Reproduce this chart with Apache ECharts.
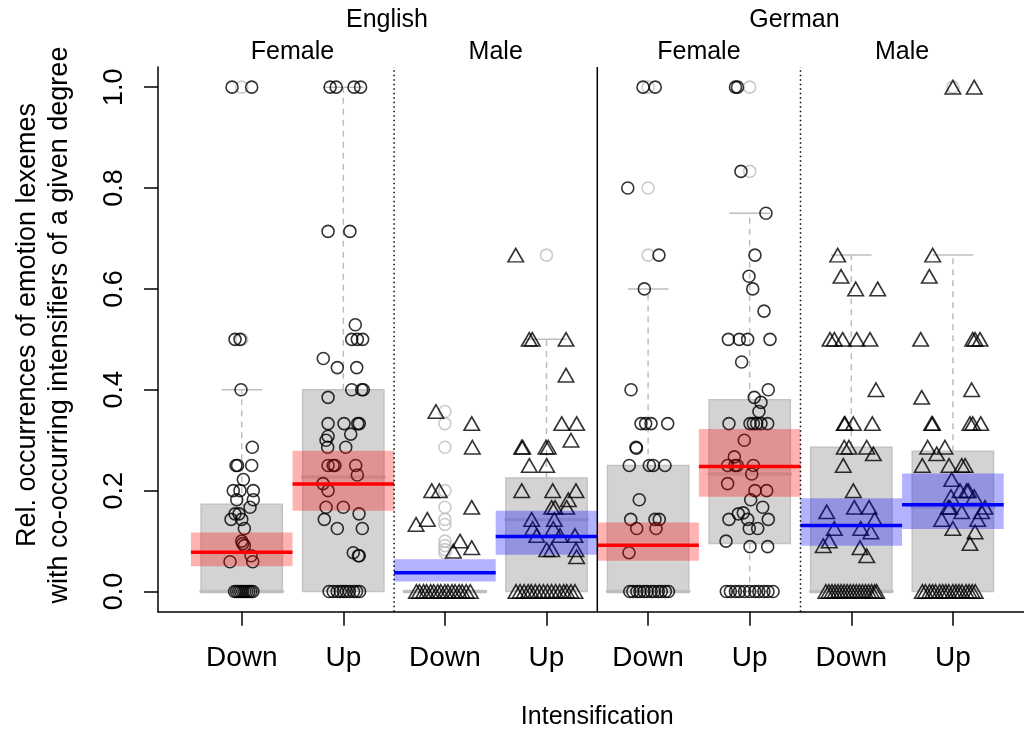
<!DOCTYPE html>
<html><head><meta charset="utf-8">
<script src="https://cdn.jsdelivr.net/npm/echarts@6/dist/echarts.min.js"></script>
<style>html,body{margin:0;padding:0;background:#fff}#c{width:1024px;height:731px}</style>
</head><body><div id="c"></div>
<script>
// ---------- data ----------
const tickLabels = ['Down','Up','Down','Up','Down','Up','Down','Up'];
const groupPositions = [1,2,3,4,5,6,7,8];
const groupGender = ['Female','Female','Male','Male','Female','Female','Male','Male'];
const languageLabels = ['English','German'];
const languageCenters = [2.43, 6.44];
const genderLabels = ['Female','Male','Female','Male'];
const genderCenters = [1.5, 3.5, 5.5, 7.5];
const yTicks = [0, 0.2, 0.4, 0.6, 0.8, 1.0];
const xTitle = 'Intensification';
const yTitle1 = 'Rel. occurrences of emotion lexemes';
const yTitle2 = 'with co-occurring intensifiers of a given degree';

// box statistics: [q1, median, q3, whiskerLow, whiskerHigh]
const boxStats = [
  [0, 0, 0.173, 0, 0.4],
  [0, 0.227, 0.4, 0, 1.0],
  [0, 0, 0, 0, 0],
  [0, 0.143, 0.225, 0, 0.5],
  [0, 0, 0.25, 0, 0.6],
  [0.095, 0.233, 0.38, 0, 0.75],
  [0, 0, 0.286, 0, 0.667],
  [0, 0.167, 0.278, 0, 0.667]
];
const meanVals = [0.078, 0.213, 0.037, 0.109, 0.092, 0.248, 0.131, 0.172];
const bandLow  = [0.050, 0.160, 0.020, 0.073, 0.061, 0.188, 0.091, 0.124];
const bandHigh = [0.117, 0.279, 0.064, 0.160, 0.137, 0.322, 0.185, 0.234];

// boxplot outliers (drawn grey at group centre)
const outliers = [
  [1.0, 0.5],
  [],
  [0.357, 0.333, 0.286, 0.2, 0.167, 0.143, 0.133, 0.1, 0.091, 0.083, 0.077],
  [0.667],
  [1.0, 0.8, 0.667],
  [1.0, 0.833],
  [],
  [1.0]
];

// observations: [jitter, value]
const obs1 = [[-0.095,1],[0.098,1],[-0.066,0.5],[-0.017,0.5],[-0.007,0.4],[0.104,0.286],[-0.056,0.25],[-0.041,0.25],[0.098,0.25],[0.016,0.222],[-0.083,0.2],[-0.017,0.2],[0.114,0.2],[-0.049,0.182],[0.114,0.182],[0.082,0.167],[-0.066,0.154],[-0.027,0.154],[-0.105,0.143],[0,0.143],[0.026,0.125],[0,0.1],[0.01,0.095],[0.026,0.091],[0.092,0.071],[-0.115,0.059],[0.108,0.059]];
const obs2 = [[-0.13,1],[-0.07,1],[0.105,1],[0.17,1],[-0.15,0.714],[0.065,0.714],[0.118,0.529],[0.083,0.5],[0.138,0.5],[0.19,0.5],[-0.197,0.462],[-0.059,0.444],[0.132,0.444],[0.083,0.4],[0.181,0.4],[0.197,0.4],[-0.15,0.385],[-0.15,0.333],[0.007,0.333],[0.142,0.333],[0.157,0.333],[0.073,0.312],[-0.15,0.308],[-0.17,0.3],[0.024,0.286],[-0.154,0.286],[-0.15,0.25],[-0.1,0.25],[-0.083,0.25],[0.122,0.25],[0.138,0.231],[-0.2,0.214],[-0.15,0.2],[-0.17,0.167],[0,0.167],[0.155,0.154],[-0.187,0.143],[-0.059,0.125],[0.187,0.125],[0.098,0.077],[0.148,0.071],[0.157,0.071]];
const obs3 = [[-0.088,0.357],[0.264,0.333],[0.27,0.286],[-0.13,0.2],[-0.055,0.2],[0.264,0.167],[-0.173,0.143],[-0.284,0.133],[0.149,0.1],[0.264,0.087],[0.083,0.08]];
const obs4 = [[-0.303,0.667],[-0.17,0.5],[-0.14,0.5],[0.192,0.5],[0.192,0.429],[0.15,0.333],[0.297,0.333],[0.241,0.3],[-0.244,0.286],[-0.234,0.286],[-0.005,0.286],[0.018,0.286],[-0.169,0.25],[0.002,0.25],[-0.244,0.2],[0.061,0.2],[0.29,0.2],[0.215,0.182],[0.051,0.167],[0.084,0.167],[0.199,0.167],[-0.146,0.143],[0.077,0.143],[-0.136,0.125],[0.067,0.125],[-0.096,0.111],[0.133,0.111],[0.28,0.111],[0.002,0.083],[0.051,0.083],[0.29,0.083],[0.297,0.069]];
const obs5 = [[-0.05,1],[0.07,1],[-0.2,0.8],[0.107,0.667],[-0.037,0.6],[-0.168,0.4],[-0.07,0.333],[-0.024,0.333],[0.029,0.333],[0.193,0.333],[-0.119,0.286],[-0.115,0.284],[-0.185,0.25],[0.012,0.25],[0.051,0.25],[0.166,0.25],[-0.087,0.182],[-0.171,0.143],[0.068,0.143],[0.11,0.143],[-0.112,0.125],[0.078,0.125],[-0.188,0.077]];
const obs6 = [[-0.14,1],[-0.12,1],[-0.086,0.833],[0.16,0.75],[0.052,0.667],[-0.007,0.625],[0.03,0.6],[0.141,0.556],[-0.21,0.5],[-0.102,0.5],[-0.02,0.5],[0.2,0.5],[-0.079,0.455],[0.183,0.4],[0.045,0.385],[0.111,0.375],[0.091,0.357],[-0.204,0.333],[0.003,0.333],[0.036,0.333],[0.069,0.333],[0.111,0.333],[0.177,0.333],[-0.053,0.3],[-0.151,0.267],[-0.217,0.25],[-0.145,0.25],[-0.122,0.25],[0.036,0.25],[0.02,0.233],[-0.217,0.214],[0.052,0.2],[0.167,0.2],[0.01,0.182],[0.128,0.167],[-0.063,0.156],[-0.112,0.154],[-0.204,0.143],[-0.02,0.143],[0.183,0.143],[-0.004,0.125],[0.079,0.125],[-0.233,0.1],[0.003,0.089],[0.177,0.089]];
const obs7 = [[-0.134,0.667],[-0.101,0.625],[0.043,0.6],[0.26,0.6],[-0.21,0.5],[-0.167,0.5],[-0.085,0.5],[0.053,0.5],[0.184,0.5],[0.243,0.4],[-0.069,0.333],[-0.062,0.333],[0.02,0.333],[0.207,0.333],[-0.069,0.286],[-0.023,0.286],[0.152,0.286],[0.217,0.273],[-0.079,0.25],[0.02,0.2],[0.03,0.167],[0.175,0.167],[-0.242,0.158],[0.23,0.143],[-0.167,0.125],[0.093,0.125],[0.193,0.118],[-0.217,0.1],[-0.276,0.091],[0.086,0.087],[0.152,0.071]];
const obs8 = [[0,1],[0.21,1],[-0.199,0.667],[-0.232,0.625],[-0.317,0.5],[0.195,0.5],[0.218,0.5],[0.267,0.5],[0.185,0.4],[-0.307,0.385],[-0.209,0.333],[-0.2,0.333],[0.168,0.333],[0.195,0.333],[0.274,0.333],[-0.248,0.286],[-0.078,0.286],[-0.159,0.273],[-0.301,0.25],[-0.038,0.25],[0.087,0.25],[0.12,0.25],[-0.012,0.222],[0.07,0.2],[0.136,0.2],[0.152,0.2],[-0.019,0.188],[0.21,0.188],[-0.029,0.167],[0.316,0.167],[-0.045,0.167],[0.087,0.158],[0.282,0.158],[-0.11,0.143],[0.244,0.143],[0,0.125],[0.218,0.118],[0.168,0.095]];

// jitter positions of the zero-valued observations per group
const zeros1 = [-0.07,-0.05,-0.03,-0.01,0.01,0.03,0.05,0.07,0.09,0.11];
const zeros2 = [-0.14,-0.1,-0.06,-0.03,0,0.03,0.06,0.1,0.13,0.16];
const zeros3 = [-0.28,-0.25,-0.21,-0.18,-0.14,-0.11,-0.07,-0.04,0,0.03,0.07,0.1,0.14,0.17,0.21,0.25];
const zeros4 = [-0.3,-0.26,-0.22,-0.18,-0.15,-0.11,-0.07,-0.03,0.01,0.05,0.09,0.13,0.17,0.2,0.24,0.28];
const zeros5 = [-0.18,-0.15,-0.11,-0.08,-0.04,-0.01,0.03,0.06,0.1,0.13,0.17,0.2];
const zeros6 = [-0.23,-0.19,-0.14,-0.1,-0.05,0,0.05,0.09,0.14,0.18,0.23];
const zeros7 = [-0.25,-0.22,-0.19,-0.16,-0.13,-0.1,-0.07,-0.04,-0.01,0.02,0.05,0.08,0.11,0.14,0.17,0.2,0.23,0.25];
const zeros8 = [-0.3,-0.27,-0.23,-0.2,-0.17,-0.13,-0.1,-0.07,-0.04,0,0.03,0.06,0.09,0.13,0.16,0.19,0.22];

const obsByGroup = [obs1,obs2,obs3,obs4,obs5,obs6,obs7,obs8];
const zerosByGroup = [zeros1,zeros2,zeros3,zeros4,zeros5,zeros6,zeros7,zeros8];
const separatorsDotted = [2.5, 6.5];
const separatorsSolid = [4.5];

// ---------- build ----------
const FONT = 'Liberation Sans, Arial, Helvetica, sans-serif';
const FS_TICK_X = 28, FS_TICK_Y = 27, FS_HEAD = 25, FS_YTITLE = 27;
const BOX_HALF = 0.4, CAP_HALF = 0.2, BAND_HALF = 0.5;
const GREY_FILL = 'rgb(211,211,211)', GREY_EDGE = 'rgb(195,195,195)', GREY_LINE = 'rgb(190,190,190)';

const circleData = [], triData = [], outlierData = [];
obsByGroup.forEach((arr, gi) => {
  const pos = groupPositions[gi];
  const pts = arr.map(p => [pos + p[0], p[1]]).concat(zerosByGroup[gi].map(j => [pos + j, 0]));
  (groupGender[gi] === 'Female' ? circleData : triData).push(...pts);
  outliers[gi].forEach(v => outlierData.push([pos, v]));
});
const boxData = boxStats.map((s, i) => [groupPositions[i]].concat(s));
const bandData = meanVals.map((m, i) => [groupPositions[i], m, bandLow[i], bandHigh[i], groupGender[i] === 'Female' ? 0 : 1]);

function seg(api, a, b, style) {
  const p = api.coord(a), q = api.coord(b);
  return {type: 'line', shape: {x1: p[0], y1: p[1], x2: q[0], y2: q[1]}, style: style};
}

function renderBox(params, api) {
  const x = api.value(0), q1 = api.value(1), med = api.value(2), q3 = api.value(3), wl = api.value(4), wh = api.value(5);
  const ch = [];
  const dash = {stroke: GREY_LINE, lineWidth: 1.5, lineDash: [6, 5]};
  const cap = {stroke: GREY_LINE, lineWidth: 1.5};
  if (wh > q3) {
    ch.push(seg(api, [x, q3], [x, wh], dash));
    ch.push(seg(api, [x - CAP_HALF, wh], [x + CAP_HALF, wh], cap));
  }
  if (wl < q1) {
    ch.push(seg(api, [x, q1], [x, wl], dash));
    ch.push(seg(api, [x - CAP_HALF, wl], [x + CAP_HALF, wl], cap));
  }
  const tl = api.coord([x - BOX_HALF, q3]), br = api.coord([x + BOX_HALF, q1]);
  if (q3 > q1) {
    ch.push({type: 'rect', shape: {x: tl[0], y: tl[1], width: br[0] - tl[0], height: br[1] - tl[1]},
      style: {fill: GREY_FILL, stroke: GREY_EDGE, lineWidth: 1.5}});
  }
  ch.push(seg(api, [x - BOX_HALF, med], [x + BOX_HALF, med], {stroke: GREY_LINE, lineWidth: 3.5, lineCap: 'round'}));
  return {type: 'group', children: ch};
}

function renderBand(params, api) {
  const x = api.value(0), m = api.value(1), lo = api.value(2), hi = api.value(3), g = api.value(4);
  const tl = api.coord([x - BAND_HALF, hi]), br = api.coord([x + BAND_HALF, lo]);
  const fill = g === 0 ? 'rgba(255,0,0,0.3)' : 'rgba(0,0,255,0.3)';
  const line = g === 0 ? '#ff0000' : '#0000ff';
  return {type: 'group', children: [
    {type: 'rect', shape: {x: tl[0], y: tl[1], width: br[0] - tl[0], height: br[1] - tl[1]}, style: {fill: fill}},
    seg(api, [x - BAND_HALF, m], [x + BAND_HALF, m], {stroke: line, lineWidth: 3.5})
  ]};
}

const sepSeries = [];
separatorsDotted.forEach(v => sepSeries.push({type: 'line', data: [[v, -0.04], [v, 1.04]], symbol: 'none', z: 8, silent: true,
  lineStyle: {color: '#000', width: 1.5, type: [1.5, 3]}}));
separatorsSolid.forEach(v => sepSeries.push({type: 'line', data: [[v, -0.04], [v, 1.04]], symbol: 'none', z: 8, silent: true,
  lineStyle: {color: '#000', width: 1.5}}));

const chart = echarts.init(document.getElementById('c'));
chart.setOption({
  animation: false,
  backgroundColor: '#fff',
  grid: {left: 158, top: 67, right: 0, height: 544.7, containLabel: false},
  xAxis: {
    type: 'value', min: 0.176, max: 8.70,
    axisLine: {onZero: false, lineStyle: {color: '#000', width: 1.5}},
    axisTick: {show: true, customValues: groupPositions, length: 14, lineStyle: {color: '#000', width: 1.5}},
    axisLabel: {customValues: groupPositions, formatter: v => tickLabels[Math.round(v) - 1], color: '#000',
      fontSize: FS_TICK_X, fontFamily: FONT, margin: 33},
    splitLine: {show: false}
  },
  yAxis: {
    type: 'value', min: -0.04, max: 1.04,
    axisLine: {show: true, lineStyle: {color: '#000', width: 1.5}},
    axisTick: {show: true, customValues: yTicks, length: 14, lineStyle: {color: '#000', width: 1.5}},
    axisLabel: {customValues: yTicks, formatter: v => v.toFixed(1), rotate: 90, color: '#000',
      fontSize: FS_TICK_Y, fontFamily: FONT, margin: 30},
    splitLine: {show: false}
  },
  series: [
    {type: 'custom', renderItem: renderBox, data: boxData, z: 1, silent: true, clip: false},
    {type: 'scatter', data: outlierData, symbol: 'circle', symbolSize: 12, z: 3, silent: true,
      itemStyle: {color: 'rgba(0,0,0,0)', borderColor: GREY_LINE, borderWidth: 1.6}},
    {type: 'scatter', data: circleData, symbol: 'circle', symbolSize: 12, z: 4, silent: true,
      itemStyle: {color: 'rgba(0,0,0,0)', borderColor: '#000', borderWidth: 1.6}},
    {type: 'scatter', data: triData, symbol: 'triangle', symbolSize: [15.5, 13.5], z: 4, silent: true,
      itemStyle: {color: 'rgba(0,0,0,0)', borderColor: '#000', borderWidth: 1.6}},
    {type: 'custom', renderItem: renderBand, data: bandData, z: 6, silent: true, clip: false}
  ].concat(sepSeries)
});

const px = v => chart.convertToPixel({xAxisIndex: 0}, v);
const gfx = [];
const fHead = FS_HEAD + 'px ' + FONT, fY = FS_YTITLE + 'px ' + FONT;
languageLabels.forEach((t, i) => gfx.push({type: 'text', x: px(languageCenters[i]), y: 20,
  style: {text: t, font: fHead, fill: '#000', textAlign: 'center', textVerticalAlign: 'middle'}}));
genderLabels.forEach((t, i) => gfx.push({type: 'text', x: px(genderCenters[i]), y: 52,
  style: {text: t, font: fHead, fill: '#000', textAlign: 'center', textVerticalAlign: 'middle'}}));
gfx.push({type: 'text', x: px(4.5), y: 717, style: {text: xTitle, font: fHead, fill: '#000', textAlign: 'center', textVerticalAlign: 'middle'}});
gfx.push({type: 'text', x: 28, y: 325, rotation: Math.PI / 2, style: {text: yTitle1, font: fY, fill: '#000', textAlign: 'center', textVerticalAlign: 'middle'}});
gfx.push({type: 'text', x: 60, y: 325, rotation: Math.PI / 2, style: {text: yTitle2, font: fY, fill: '#000', textAlign: 'center', textVerticalAlign: 'middle'}});
chart.setOption({graphic: gfx});
</script>
</body></html>
